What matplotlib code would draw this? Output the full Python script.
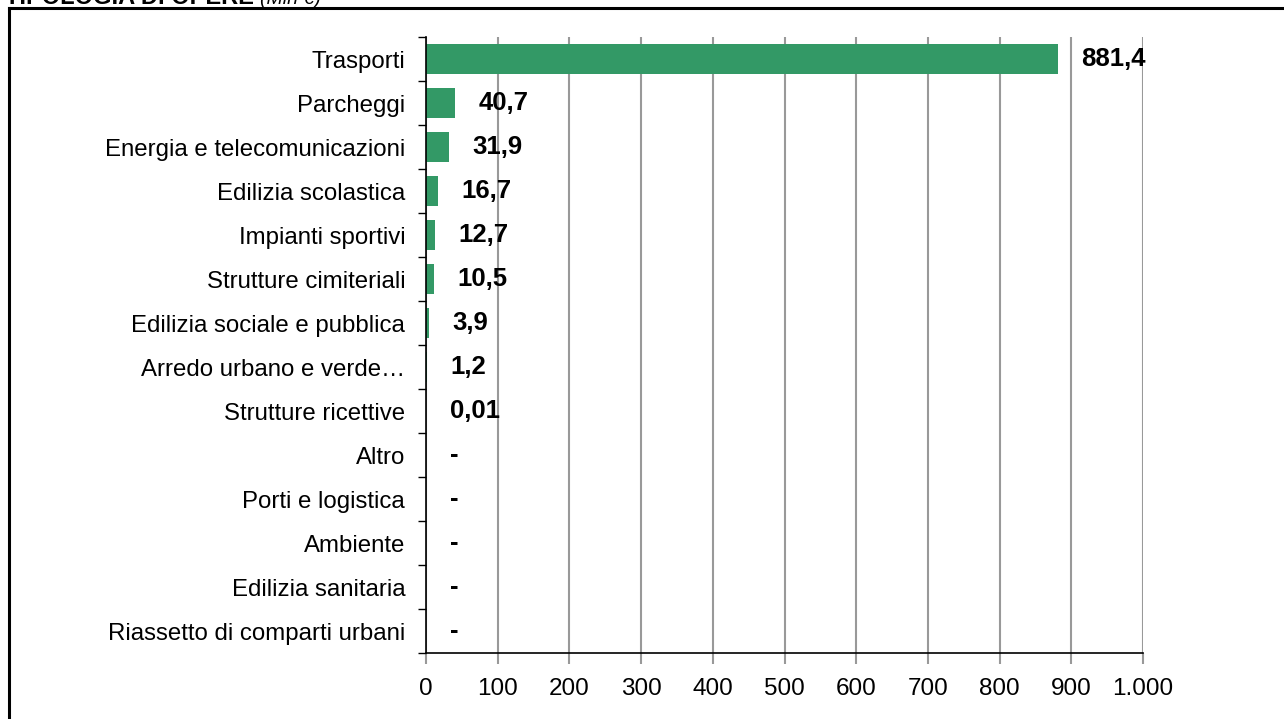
import matplotlib.pyplot as plt
import numpy as np
from matplotlib.ticker import FuncFormatter, FixedLocator

plt.rcParams["font.family"] = ["Liberation Sans", "DejaVu Sans"]

# Data (Mln €)
categories = [
    "Trasporti",
    "Parcheggi",
    "Energia e telecomunicazioni",
    "Edilizia scolastica",
    "Impianti sportivi",
    "Strutture cimiteriali",
    "Edilizia sociale e pubblica",
    "Arredo urbano e verde…",
    "Strutture ricettive",
    "Altro",
    "Porti e logistica",
    "Ambiente",
    "Edilizia sanitaria",
    "Riassetto di comparti urbani",
]
values = [881.4, 40.7, 31.9, 16.7, 12.7, 10.5, 3.9, 1.2, 0.01, 0, 0, 0, 0, 0]
x_ticks = [0, 100, 200, 300, 400, 500, 600, 700, 800, 900, 1000]

BAR_COLOR = "#339966"
GRID_COLOR = "#999999"

fig = plt.figure(figsize=(12.84, 7.19), dpi=100)
ax = fig.add_axes([426 / 1284, 1 - 653 / 719, 717 / 1284, 616 / 719])

y = np.arange(len(categories))
ax.barh(y, values, height=0.67, color=BAR_COLOR, zorder=2)

# value labels, "-" for empty categories
for yi, v in zip(y, values):
    label = "-" if v == 0 else f"{v:g}".replace(".", ",")
    ax.annotate(label, xy=(v, yi), xytext=(17, 0), textcoords="offset points",
                ha="left", va="center", fontsize=18.5, fontweight="bold")

ax.set_ylim(len(categories) - 0.5, -0.5)
ax.set_yticks(y)
ax.set_yticklabels(categories, fontsize=17.3)
ax.yaxis.set_minor_locator(FixedLocator(np.arange(-0.5, len(categories), 1)))
ax.tick_params(axis="y", which="major", length=0, pad=15)
ax.tick_params(axis="y", which="minor", length=6, width=1, color="black")

ax.set_xlim(0, 1000)
ax.set_xticks(x_ticks)
ax.xaxis.set_major_formatter(
    FuncFormatter(lambda v, p: f"{int(v):,}".replace(",", ".")))
ax.tick_params(axis="x", length=8, width=1.5, color=GRID_COLOR,
               labelsize=17.5, pad=10)

ax.grid(axis="x", color=GRID_COLOR, linewidth=1.5, zorder=0)
ax.set_axisbelow(True)
for side in ["top", "right"]:
    ax.spines[side].set_visible(False)
for side in ["left", "bottom"]:
    ax.spines[side].set_linewidth(1.2)
    ax.spines[side].set_color("black")
    ax.spines[side].set_zorder(3)

# outer frame (only top and left edges visible)
fig.add_artist(plt.Line2D([9 / 1284, 9 / 1284], [0, 1 - 8 / 719],
                          transform=fig.transFigure, color="black", linewidth=2.2))
fig.add_artist(plt.Line2D([9 / 1284, 1], [1 - 8 / 719, 1 - 8 / 719],
                          transform=fig.transFigure, color="black", linewidth=2.2))

# title, cut off at the top edge as in the original
title = fig.text(5 / 1284, 1 - 4 / 719, "TIPOLOGIA DI OPERE ", fontsize=17,
                 fontweight="bold", ha="left", va="baseline")
fig.canvas.draw()
bb = title.get_window_extent()
fig.text(bb.x1 / fig.bbox.width, 1 - 4 / 719, "(Mln €)", fontsize=14,
         fontstyle="italic", ha="left", va="baseline")

fig.savefig("out.png", dpi=100)
